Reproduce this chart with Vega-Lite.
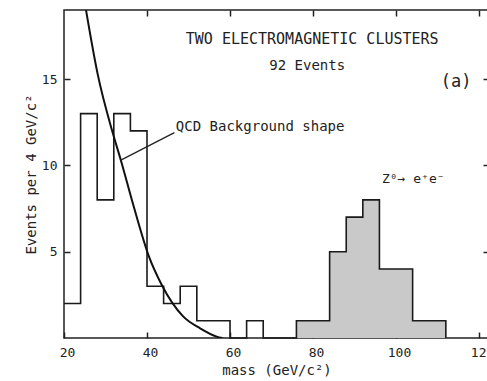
{
  "$schema": "https://vega.github.io/schema/vega-lite/v6.json",
  "width": 425,
  "height": 328,
  "autosize": "none",
  "padding": {"left": 64, "top": 10, "right": 0, "bottom": 43},
  "background": "white",
  "config": {
    "view": {"stroke": "#222", "strokeWidth": 1.5},
    "font": "DejaVu Sans Mono",
    "axis": {
      "grid": false,
      "domain": false,
      "tickColor": "#222",
      "tickWidth": 1.5,
      "tickSize": -6,
      "labelColor": "#222",
      "labelFont": "DejaVu Sans Mono",
      "labelFontSize": 13,
      "titleFont": "DejaVu Sans Mono",
      "titleFontSize": 14,
      "titleFontWeight": "normal",
      "titleColor": "#222"
    }
  },
  "datasets": {
    "hist": [
      {"mass": 20, "events": 2},
      {"mass": 24, "events": 13},
      {"mass": 28, "events": 8},
      {"mass": 32, "events": 13},
      {"mass": 36, "events": 12},
      {"mass": 40, "events": 3},
      {"mass": 44, "events": 2},
      {"mass": 48, "events": 3},
      {"mass": 52, "events": 1},
      {"mass": 56, "events": 1},
      {"mass": 60, "events": 0},
      {"mass": 64, "events": 1},
      {"mass": 68, "events": 0},
      {"mass": 72, "events": 0},
      {"mass": 76, "events": 1},
      {"mass": 80, "events": 1},
      {"mass": 84, "events": 5},
      {"mass": 88, "events": 7},
      {"mass": 92, "events": 8},
      {"mass": 96, "events": 4},
      {"mass": 100, "events": 4},
      {"mass": 104, "events": 1},
      {"mass": 108, "events": 1},
      {"mass": 112, "events": 0}
    ],
    "qcd": [
      {"mass": 25.3, "events": 19.0},
      {"mass": 28.1, "events": 15.3},
      {"mass": 31.6, "events": 12.0},
      {"mass": 33.7, "events": 10.3},
      {"mass": 36.7, "events": 7.7},
      {"mass": 40.5, "events": 4.7},
      {"mass": 43.5, "events": 3.1},
      {"mass": 48.7, "events": 1.25},
      {"mass": 52.8, "events": 0.56},
      {"mass": 56.8, "events": 0.08},
      {"mass": 58.2, "events": 0}
    ]
  },
  "layer": [
    {
      "data": {"name": "hist"},
      "transform": [{"filter": "datum.mass >= 76"}],
      "mark": {"type": "area", "interpolate": "step-after", "color": "#c9c9c9"},
      "encoding": {
        "x": {
          "field": "mass", "type": "quantitative",
          "scale": {"domain": [20, 122.4], "nice": false, "zero": false},
          "axis": {"orient": "bottom", "values": [20, 40, 60, 80, 100, 120], "labelPadding": 14, "labelFlush": false, "labelOffset": 3, "title": "mass (GeV/c²)", "titlePadding": 4}
        },
        "y": {
          "field": "events", "type": "quantitative",
          "scale": {"domain": [0, 19], "nice": false},
          "axis": {"orient": "left", "values": [5, 10, 15], "labelPadding": 13, "title": "Events per 4 GeV/c²", "titlePadding": 3}
        }
      }
    },
    {
      "data": {"name": "hist"},
      "mark": {"type": "line", "interpolate": "step-after", "color": "#1a1a1a", "strokeWidth": 1.6},
      "encoding": {
        "x": {"field": "mass", "type": "quantitative", "axis": {"orient": "top", "values": [40, 60, 80, 100, 120], "labels": false, "title": null}},
        "y": {"field": "events", "type": "quantitative", "axis": {"orient": "right", "values": [5, 10, 15], "labels": false, "title": null}}
      }
    },
    {
      "data": {"name": "qcd"},
      "mark": {"type": "line", "interpolate": "monotone", "color": "#111", "strokeWidth": 2, "clip": true},
      "encoding": {
        "x": {"field": "mass", "type": "quantitative", "axis": null},
        "y": {"field": "events", "type": "quantitative", "axis": null}
      }
    },
    {
      "data": {"values": [{}]},
      "mark": {"type": "rule", "color": "#222", "strokeWidth": 1.3},
      "encoding": {
        "x": {"datum": 33.7, "type": "quantitative", "axis": null},
        "y": {"datum": 10.3, "type": "quantitative", "axis": null},
        "x2": {"datum": 46.6},
        "y2": {"datum": 11.9}
      }
    },
    {
      "data": {"values": [{}]},
      "mark": {"type": "text", "font": "DejaVu Sans Mono", "fontSize": 14, "align": "left", "baseline": "middle", "color": "#222"},
      "encoding": {
        "x": {"datum": 46.95, "type": "quantitative", "axis": null},
        "y": {"datum": 12.2, "type": "quantitative", "axis": null},
        "text": {"value": "QCD Background shape"}
      }
    },
    {
      "data": {"values": [{}]},
      "mark": {"type": "text", "font": "DejaVu Sans Mono", "fontSize": 15, "align": "center", "baseline": "middle", "color": "#222"},
      "encoding": {
        "x": {"datum": 79.8, "type": "quantitative", "axis": null},
        "y": {"datum": 17.32, "type": "quantitative", "axis": null},
        "text": {"value": "TWO ELECTROMAGNETIC CLUSTERS"}
      }
    },
    {
      "data": {"values": [{}]},
      "mark": {"type": "text", "font": "DejaVu Sans Mono", "fontSize": 14, "align": "center", "baseline": "middle", "color": "#222"},
      "encoding": {
        "x": {"datum": 78.6, "type": "quantitative", "axis": null},
        "y": {"datum": 15.76, "type": "quantitative", "axis": null},
        "text": {"value": "92 Events"}
      }
    },
    {
      "data": {"values": [{}]},
      "mark": {"type": "text", "font": "DejaVu Sans Mono", "fontSize": 17, "align": "center", "baseline": "middle", "color": "#222"},
      "encoding": {
        "x": {"datum": 114.5, "type": "quantitative", "axis": null},
        "y": {"datum": 14.83, "type": "quantitative", "axis": null},
        "text": {"value": "(a)"}
      }
    },
    {
      "data": {"values": [{}]},
      "mark": {"type": "text", "font": "DejaVu Sans Mono", "fontSize": 13, "align": "left", "baseline": "middle", "color": "#222"},
      "encoding": {
        "x": {"datum": 96.6, "type": "quantitative", "axis": null},
        "y": {"datum": 9.2, "type": "quantitative", "axis": null},
        "text": {"value": "Z⁰→ e⁺e⁻"}
      }
    }
  ],
  "resolve": {"axis": {"x": "independent", "y": "independent"}}
}
